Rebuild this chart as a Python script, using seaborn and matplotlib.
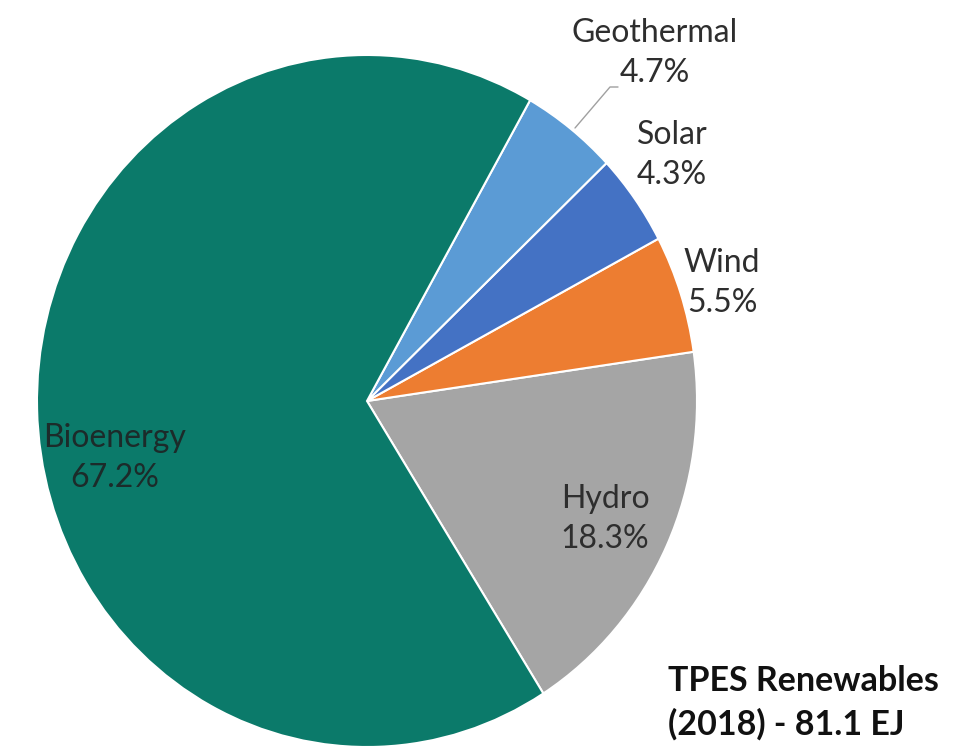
import matplotlib
matplotlib.use("Agg")
import matplotlib.pyplot as plt
import seaborn as sns

sns.set_theme(style="white")
plt.rcParams["font.family"] = ["Lato", "DejaVu Sans"]

# data (counter-clockwise from Hydro)
sources = ["Hydro", "Wind", "Solar", "Geothermal", "Bioenergy"]
shares = [18.3, 5.5, 4.3, 4.7, 67.2]
colors = ["#A5A5A5", "#ED7D31", "#4472C4", "#5B9BD5", "#0B7A6A"]

# pie box in pixels: centre (367, 401), radius 330 wide x 346 tall
CX, CY, RX, RY = 367, 401, 330, 346

fig = plt.figure(figsize=(9.76, 7.5), dpi=100)
ax = fig.add_axes([(CX - RX) / 976, (750 - CY - RY) / 750, 2 * RX / 976, 2 * RY / 750])

wedges, _ = ax.pie(
    shares,
    colors=colors,
    startangle=-57.7,
    counterclock=True,
    radius=1.0,
    wedgeprops=dict(edgecolor="white", linewidth=1.5),
)
ax.set_xlim(-1, 1)
ax.set_ylim(-1, 1)
ax.set_aspect("auto")
ax.axis("off")


def px(x, y):
    # pixel position in the picture -> data coords of the pie axes
    return (x - CX) / RX, (CY - y) / RY


label_pos = {
    "Hydro": (605, 519),
    "Wind": (722, 283),
    "Solar": (672, 155),
    "Geothermal": (655, 53),
    "Bioenergy": (115, 458),
}

for name, val in zip(sources, shares):
    x, y = px(*label_pos[name])
    col = "#1C2B2A" if name == "Bioenergy" else "#2E2E2E"
    ax.text(x, y, f"{name}\n{val}%", ha="center", va="center",
            fontsize=23, color=col, linespacing=1.45, clip_on=False)

# leader line for Geothermal
pts = [px(575, 128), px(610, 87), px(618, 87)]
ax.plot([p[0] for p in pts], [p[1] for p in pts], color="#A0A0A0",
        linewidth=1, clip_on=False)

fig.text(668 / 976, 1 - 703 / 750, "TPES Renewables\n(2018) - 81.1 EJ",
         ha="left", va="center", fontsize=24.5, fontweight="bold",
         color="#111111", linespacing=1.42)

fig.savefig("out.png", dpi=100, facecolor="white")
